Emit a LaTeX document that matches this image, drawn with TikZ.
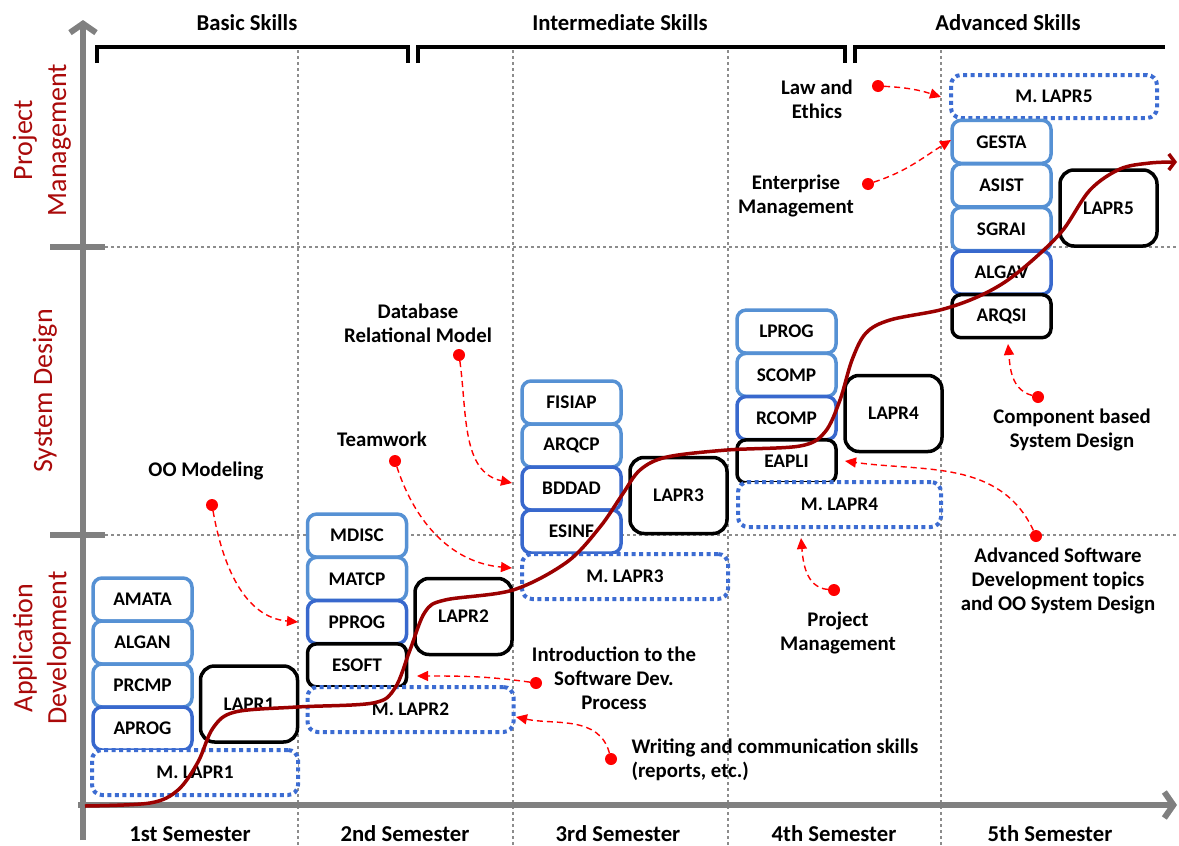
\documentclass[tikz,border=0pt]{standalone}
\usepackage{fontspec}
\setmainfont{Carlito}
\usetikzlibrary{arrows.meta}
\definecolor{lblue}{RGB}{86,145,212}
\definecolor{dblue}{RGB}{56,104,205}
\definecolor{mblue}{RGB}{60,108,210}
\definecolor{axisgray}{RGB}{128,128,128}
\definecolor{gridgray}{RGB}{140,140,140}
\definecolor{curvered}{RGB}{155,0,0}
\definecolor{labred}{RGB}{170,10,10}
\definecolor{annred}{RGB}{255,0,0}
\begin{document}
\begin{tikzpicture}[x=1pt,y=-1pt,
  grid/.style={draw=gridgray,line width=2.5pt,dash pattern=on 2.5pt off 3.5pt},
  axis/.style={draw=axisgray,line width=6pt},
  bracket/.style={draw=black,line width=4.5pt},
  title/.style={font=\fontsize{22.7}{26}\selectfont\bfseries},
  sidelab/.style={font=\fontsize{28}{34}\selectfont,text=labred,rotate=90,align=center},
  sbox/.style={draw,line width=3.5pt,rounded corners=9pt,minimum width=99pt,minimum height=43pt,fill=white,inner sep=0pt,font=\fontsize{19.3}{21}\selectfont\bfseries},
  lb/.style={sbox,draw=lblue},
  db/.style={sbox,draw=dblue},
  kb/.style={sbox,draw=black},
  lapr/.style={draw=black,line width=3.5pt,rounded corners=14pt,minimum width=97pt,minimum height=76pt,fill=white,inner sep=0pt,font=\fontsize{19.3}{21}\selectfont\bfseries},
  mbox/.style={draw=mblue,line width=4pt,dash pattern=on 4pt off 3.5pt,rounded corners=10pt,minimum width=206pt,minimum height=45pt,fill=white,inner sep=0pt,font=\fontsize{19.3}{21}\selectfont\bfseries},
  curve/.style={draw=curvered,line width=3.5pt},
  annot/.style={font=\fontsize{20.8}{24}\selectfont\bfseries,align=center},
  dot/.style={circle,fill=annred,inner sep=0pt,minimum size=12pt},
  ann/.style={draw=annred,line width=1.4pt,dash pattern=on 6pt off 4pt,-{Triangle[length=11pt,width=10pt]}}
]
\useasboundingbox (0,0) rectangle (1179,846);

% grid
\foreach \x in {298,513,728,941} \draw[grid] (\x,50) -- (\x,846);
\foreach \y in {247,535} \draw[grid] (105,\y) -- (1179,\y);

% axes
\draw[axis,-{Straight Barb[length=9pt,width=26pt]}] (83,840) -- (83,20);
\draw[axis,-{Straight Barb[length=9pt,width=26pt]}] (78,805) -- (1177,805);
\draw[axis] (50,247) -- (105,247);
\draw[axis] (50,535) -- (105,535);

% brackets
\draw[bracket] (97,63) -- (97,47) -- (408,47) -- (408,63);
\draw[bracket] (418,63) -- (418,47) -- (845,47) -- (845,63);
\draw[bracket] (855,63) -- (855,47) -- (1165,47);

% titles
\node[title] (tb) at (247,23) {Basic Skills};
\node[title] (ti) at (620,23) {Intermediate Skills};
\node[title] (ta) at (1008,23) {Advanced Skills};

\node[title] (s1) at (190,834) {1st Semester};
\node[title] (s2) at (405,834) {2nd Semester};
\node[title] (s3) at (618,834) {3rd Semester};
\node[title] (s4) at (834,834) {4th Semester};
\node[title] (s5) at (1050,834) {5th Semester};

% side labels
\node[sidelab] (pm) at (42,140) {Project\\Management};
\node[sidelab] (sd) at (45,391) {System Design};
\node[sidelab] (ad) at (42,648) {Application\\Development};

% semester 1
\node[lb] (amata) at (142.5,599.5) {AMATA};
\node[lb] (algan) at (142.5,642.5) {ALGAN};
\node[lb] (prcmp) at (142.5,685.5) {PRCMP};
\node[db] (aprog) at (142.5,728.5) {APROG};
\node[lapr] (lapr1) at (249,704) {LAPR1};
\node[mbox] (mlapr1) at (195,772.5) {M. LAPR1};

% semester 2
\node[lb] (mdisc) at (357,535.6) {MDISC};
\node[lb] (matcp) at (357,578.9) {MATCP};
\node[db] (pprog) at (357,622.1) {PPROG};
\node[kb] (esoft) at (357,665.4) {ESOFT};
\node[lapr] (lapr2) at (463.5,616.5) {LAPR2};
\node[mbox] (mlapr2) at (410.5,709.5) {M. LAPR2};

% semester 3
\node[lb] (fisiap) at (571.5,402.5) {FISIAP};
\node[lb] (arqcp) at (571.5,445.5) {ARQCP};
\node[db] (bddad) at (571.5,488.5) {BDDAD};
\node[db] (esinf) at (571.5,531.5) {ESINF};
\node[lapr] (lapr3) at (678.5,495.5) {LAPR3};
\node[mbox] (mlapr3) at (625,576.5) {M. LAPR3};

% semester 4
\node[lb] (lprog) at (786.5,331.6) {LPROG};
\node[lb] (scomp) at (786.5,374.9) {SCOMP};
\node[db] (rcomp) at (786.5,418.1) {RCOMP};
\node[kb] (eapli) at (786.5,461.4) {EAPLI};
\node[lapr] (lapr4) at (893.5,413.5) {LAPR4};
\node[mbox,minimum width=203pt] (mlapr4) at (839.5,504.5) {M. LAPR4};

% semester 5
\node[mbox,minimum height=43pt] (mlapr5) at (1054,96.5) {M. LAPR5};
\node[lb] (gesta) at (1001.5,141.8) {GESTA};
\node[lb] (asist) at (1001.5,185.4) {ASIST};
\node[lb] (sgrai) at (1001.5,229) {SGRAI};
\node[db] (algav) at (1001.5,272.6) {ALGAV};
\node[kb] (arqsi) at (1001.5,316.2) {ARQSI};
\node[lapr] (lapr5) at (1108.5,208) {LAPR5};

% progress curve
\draw[curve,-{Straight Barb[length=6pt,width=16pt]}] plot[smooth,tension=0.55] coordinates {
 (85,806) (150,803) (178,790) (198,762) (213,728) (235,712) (297,707) (373,703)
 (395,688) (410,650) (425,612) (445,600) (513,590) (567,562) (600,527) (622,495)
 (640,470) (667,457) (727,450) (800,446) (825,432) (840,400) (852,360) (866,333)
 (890,320) (940,310) (975,298) (1005,282) (1035,258) (1063,230) (1090,190)
 (1120,169) (1150,163) (1177,162)};

% annotations
\node[annot] (oo) at (206,471) {OO Modeling};
\node[dot] (d1) at (212,505) {};
\coordinate (t1) at (298,622);
\draw[ann] (d1) to[out=-80,in=175] (t1);

\node[annot] (tw) at (382,439) {Teamwork};
\node[dot] (d2) at (395,461) {};
\coordinate (t2) at (512,568);
\draw[ann] (d2) to[out=-72,in=175] (t2);

\node[annot] (db) at (418,323) {Database\\Relational Model};
\node[dot] (d3) at (459,355) {};
\coordinate (t3) at (512,483);
\draw[ann] (d3) to[out=-82,in=168] (t3);

\node[annot] (intro) at (614,678) {Introduction to the\\Software Dev.\\Process};
\node[dot] (d4) at (536,683) {};
\coordinate (t4) at (417,676);
\draw[ann] (d4) to[out=172,in=0] (t4);

\node[annot,align=left,anchor=west] (wr) at (628,760) {Writing and communication skills\\(reports, etc.)};
\node[dot] (d5) at (611,759) {};
\coordinate (t5) at (516,717);
\draw[ann] (d5) to[out=105,in=-12] (t5);

\node[annot] (pmg) at (838,633) {Project\\Management};
\node[dot] (d6) at (834,590) {};
\coordinate (t6) at (801,538);
\draw[ann] (d6) to[out=175,in=-85] (t6);

\node[annot] (asd) at (1058,581) {Advanced Software\\Development topics\\and OO System Design};
\node[dot] (d7) at (1036,536) {};
\coordinate (t7) at (845,461);
\draw[ann] (d7) to[out=115,in=-8] (t7);

\node[annot] (cbs) at (1072,430) {Component based\\System Design};
\node[dot] (d8) at (1038,397) {};
\coordinate (t8) at (1008,344);
\draw[ann] (d8) to[out=165,in=-85] (t8);

\node[annot] (ent) at (796,196) {Enterprise\\Management};
\node[dot] (d9) at (868,184) {};
\coordinate (t9) at (951,140);
\draw[ann] (d9) to[out=18,in=-148] (t9);

\node[annot] (law) at (817,99) {Law and\\Ethics};
\node[dot] (d10) at (878,86) {};
\coordinate (t10) at (941,97);
\draw[ann] (d10) to[out=-3,in=162] (t10);
\end{tikzpicture}
\end{document}
